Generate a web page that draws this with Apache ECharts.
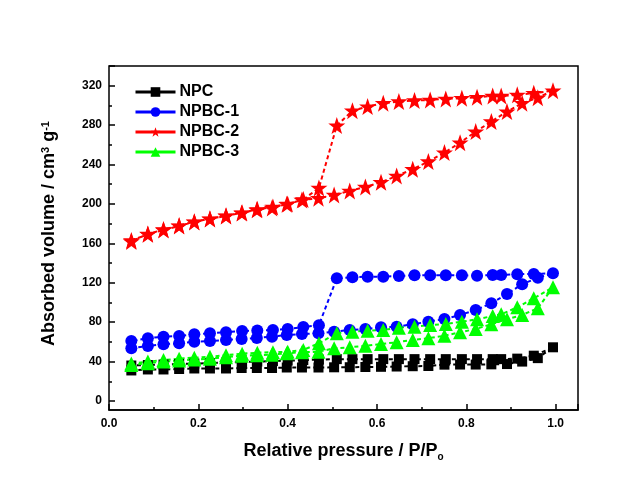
<!DOCTYPE html>
<html>
<head>
<meta charset="utf-8">
<style>
  html, body { margin: 0; padding: 0; background: #fff; }
  #chart { width: 641px; height: 502px; }
</style>
<script src="https://cdn.jsdelivr.net/npm/echarts@6/dist/echarts.min.js"></script>
</head>
<body>
<div id="chart"></div>
<script>
// relative pressure, adsorption (up) and desorption (down) branches
const adsP = [0.05, 0.087, 0.122, 0.157, 0.191, 0.226, 0.262, 0.297, 0.331, 0.365, 0.398, 0.432, 0.469, 0.504,
  0.539, 0.574, 0.609, 0.644, 0.680, 0.715, 0.751, 0.786, 0.821, 0.856, 0.891, 0.925, 0.960, 0.994]
const desP = [0.951, 0.914, 0.878, 0.859, 0.824, 0.790, 0.754, 0.719, 0.684, 0.649, 0.614, 0.579, 0.545, 0.510,
  0.470, 0.435, 0.400, 0.367, 0.332, 0.298, 0.262, 0.226, 0.191, 0.157, 0.122, 0.087, 0.05]

const names = ['NPC', 'NPBC-1', 'NPBC-2', 'NPBC-3']

const npcAds = [31, 32, 32, 32.5, 33, 33, 33, 33.5, 33.5, 33.5, 34, 34, 34, 34.2,
  34.3, 34.5, 34.7, 35, 35.3, 35.5, 36.9, 37, 37, 37.2, 37.5, 40, 43.5, 54.5]
const npcDes = [46, 43, 42.5, 42.5, 42.5, 42.5, 42.5, 42.5, 42.5, 42.5, 42.5, 42.5, 42.5, 42.5,
  42, 41.5, 41, 40.5, 40, 39.5, 39, 38.5, 38, 37.5, 37, 36.5, 36]

const npbc1Ads = [53.5, 55.8, 57.6, 58.6, 60.2, 60.9, 61.9, 62.9, 64, 65.3, 67, 68, 68.7, 70.4,
  72.1, 73.1, 74.8, 75.4, 77.9, 80.5, 83.2, 87.3, 92.4, 99.2, 108.6, 118.5, 125.2, 129.6]
const npbc1Des = [129, 128.6, 127.9, 127.9, 127.2, 127.6, 127.6, 127.6, 127.6, 126.9, 126.2, 126.2, 125.6, 124.6,
  77, 75, 73, 72, 71.5, 71, 69.8, 68.7, 67.7, 66, 65.3, 63.7, 61]

const npbc2Ads = [163, 169.2, 173.6, 177.7, 181.7, 184.8, 187.8, 190.9, 194, 196, 199.7, 204, 205.8, 209.1,
  213.2, 217.3, 222, 228.4, 235.2, 243, 252.1, 262.2, 273.4, 283.6, 293.7, 302.2, 307.9, 315]
const npbc2Des = [312.4, 310.7, 309.6, 309.6, 308.3, 307.3, 306.6, 305.6, 304.9, 303.9, 302.2, 298.8, 294.7, 279.5,
  216.2, 204.5, 200, 197, 194.5, 191, 188, 185, 182, 178, 174, 169.5, 162]

const npbc3Ads = [36.5, 38.3, 40, 41, 42, 43, 44.5, 46, 46.5, 47, 48.5, 49.5, 50, 53.5,
  54.5, 56, 57.9, 59.6, 62, 63.7, 66.3, 69.7, 73.1, 77.9, 83, 87.3, 94.1, 115.5]
const npbc3Des = [104.3, 95.1, 88, 86.3, 82.9, 80.5, 78.2, 77.2, 75.4, 74.4, 72.1, 71.4, 70.4, 68.7,
  58.6, 51.8, 50, 49.5, 49, 48, 46.5, 45, 44, 43, 41.5, 40, 38]

const colors = ['#000000', '#0000ff', '#ff0000', '#00ff00']
const symbols = ['rect', 'circle', 'path://M50,0 L62,34 L98,34 L69,56 L80,92 L50,71 L20,92 L31,56 L2,34 L38,34 Z', 'triangle']
const symbolSizes = [10, 12, 17, 14]

const isotherm = (ads, des) =>
  adsP.map((p, i) => [p, ads[i]]).concat(desP.map((p, i) => [p, des[i]]))

const seriesData = [
  isotherm(npcAds, npcDes),
  isotherm(npbc1Ads, npbc1Des),
  isotherm(npbc2Ads, npbc2Des),
  isotherm(npbc3Ads, npbc3Des),
]

const font = 'Arial, "Liberation Sans", sans-serif'
const axisText = { color: '#000', fontWeight: 'bold', fontSize: 12, fontFamily: font }

const chart = echarts.init(document.getElementById('chart'))
chart.setOption({
  animation: false,
  backgroundColor: '#fff',
  grid: [
    // frame + x axis
    { left: 109, right: 63, top: 66, bottom: 92, show: true, borderColor: '#000', borderWidth: 1.5, backgroundColor: 'transparent' },
    // data area, y = 0 at the bottom edge
    { left: 109, right: 63, top: 66, bottom: 101 },
  ],
  legend: {
    orient: 'vertical',
    left: 134,
    top: 84,
    padding: 0,
    itemWidth: 40,
    itemHeight: 12,
    itemGap: 4,
    data: names,
    lineStyle: { type: 'solid', width: 3 },
    textStyle: { color: '#000', fontWeight: 'bold', fontSize: 16, fontFamily: font, padding: [0, 0, 0, -1] },
  },
  xAxis: [
    {
      gridIndex: 0,
      type: 'value',
      min: 0,
      max: 1.05,
      interval: 0.2,
      name: 'Relative pressure / P/P{sub|o}',
      nameLocation: 'middle',
      nameGap: 30,
      nameTextStyle: {
        color: '#000', fontWeight: 'bold', fontSize: 18, fontFamily: font,
        rich: { sub: { fontSize: 10, fontWeight: 'bold', fontFamily: font, verticalAlign: 'bottom', padding: [12, 0, 0, 0] } },
      },
      axisLine: { lineStyle: { color: '#000', width: 1.5 } },
      axisTick: { inside: true, length: 6, lineStyle: { color: '#000', width: 1.5 } },
      minorTick: { show: true, splitNumber: 2, length: 3, lineStyle: { color: '#000', width: 1.5 } },
      splitLine: { show: false },
      axisLabel: { ...axisText, margin: 8, showMaxLabel: false, formatter: (v) => v.toFixed(1) },
    },
    { gridIndex: 1, type: 'value', min: 0, max: 1.05, show: false },
  ],
  yAxis: [
    { gridIndex: 0, type: 'value', min: 0, max: 1, show: false },
    {
      gridIndex: 1,
      type: 'value',
      min: 0,
      max: 340,
      interval: 40,
      name: 'Absorbed volume / cm{sup|3} g{sup|-1}',
      nameLocation: 'middle',
      nameGap: 50,
      nameTextStyle: {
        color: '#000', fontWeight: 'bold', fontSize: 18, fontFamily: font,
        rich: { sup: { fontSize: 11, fontWeight: 'bold', fontFamily: font, verticalAlign: 'top', padding: [0, 0, 8, 0] } },
      },
      axisLine: { show: false },
      axisTick: { inside: true, length: 6, lineStyle: { color: '#000', width: 1.5 } },
      minorTick: { show: true, splitNumber: 2, length: 3, lineStyle: { color: '#000', width: 1.5 } },
      splitLine: { show: false },
      axisLabel: { ...axisText, margin: 7, showMaxLabel: false },
    },
  ],
  series: names.map((name, i) => ({
    name,
    type: 'line',
    xAxisIndex: 1,
    yAxisIndex: 1,
    data: seriesData[i],
    symbol: symbols[i],
    symbolSize: symbolSizes[i],
    showAllSymbol: true,
    color: colors[i],
    itemStyle: { color: colors[i] },
    lineStyle: { color: colors[i], width: 2, type: [4, 3] },
  })),
})
</script>
</body>
</html>
